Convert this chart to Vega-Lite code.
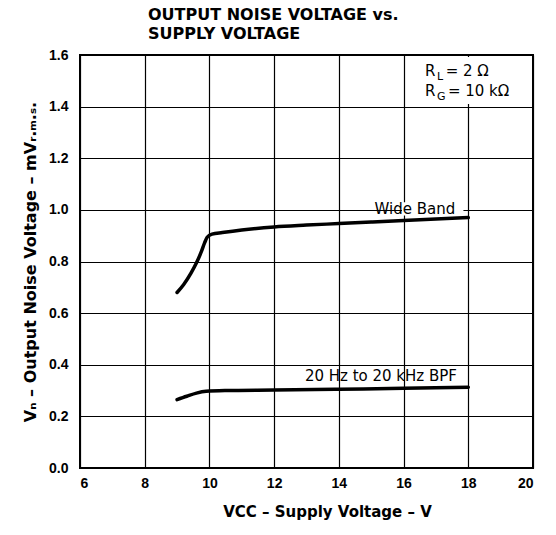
{
  "$schema": "https://vega.github.io/schema/vega-lite/v6.json",
  "width": 453,
  "height": 413,
  "autosize": {"type": "none"},
  "padding": {"left": 80, "top": 55, "right": 23, "bottom": 67},
  "background": "white",
  "title": {
    "text": ["OUTPUT NOISE VOLTAGE vs.", "SUPPLY VOLTAGE"],
    "anchor": "start",
    "frame": "group",
    "dx": 68,
    "offset": 6,
    "font": "DejaVu Sans",
    "fontSize": 16,
    "fontWeight": "bold",
    "lineHeight": 19,
    "color": "black"
  },
  "config": {
    "view": {"stroke": "black", "strokeWidth": 2},
    "axis": {
      "labelFont": "Liberation Sans",
      "labelFontSize": 14,
      "labelFontWeight": "bold",
      "labelColor": "black",
      "labelOverlap": false,
      "titleFont": "DejaVu Sans",
      "titleFontSize": 15,
      "titleFontWeight": "bold",
      "titleColor": "black",
      "grid": true,
      "gridColor": "black",
      "gridOpacity": 1,
      "gridWidth": 1.2,
      "domain": false,
      "ticks": false
    }
  },
  "datasets": {
    "curves": [
      {"series": "Wide Band", "vcc": 9.0, "vn": 0.68},
      {"series": "Wide Band", "vcc": 9.2, "vn": 0.71},
      {"series": "Wide Band", "vcc": 9.43, "vn": 0.755},
      {"series": "Wide Band", "vcc": 9.6, "vn": 0.795},
      {"series": "Wide Band", "vcc": 9.75, "vn": 0.838},
      {"series": "Wide Band", "vcc": 9.85, "vn": 0.872},
      {"series": "Wide Band", "vcc": 9.93, "vn": 0.894},
      {"series": "Wide Band", "vcc": 10.08, "vn": 0.906},
      {"series": "Wide Band", "vcc": 10.4, "vn": 0.912},
      {"series": "Wide Band", "vcc": 11.0, "vn": 0.922},
      {"series": "Wide Band", "vcc": 12.0, "vn": 0.934},
      {"series": "Wide Band", "vcc": 13.0, "vn": 0.941},
      {"series": "Wide Band", "vcc": 14.0, "vn": 0.947},
      {"series": "Wide Band", "vcc": 15.0, "vn": 0.953},
      {"series": "Wide Band", "vcc": 16.0, "vn": 0.959},
      {"series": "Wide Band", "vcc": 17.0, "vn": 0.965},
      {"series": "Wide Band", "vcc": 18.0, "vn": 0.97},
      {"series": "BPF", "vcc": 9.0, "vn": 0.265},
      {"series": "BPF", "vcc": 9.3, "vn": 0.278},
      {"series": "BPF", "vcc": 9.6, "vn": 0.29},
      {"series": "BPF", "vcc": 9.9, "vn": 0.297},
      {"series": "BPF", "vcc": 10.5, "vn": 0.3},
      {"series": "BPF", "vcc": 12.0, "vn": 0.302},
      {"series": "BPF", "vcc": 14.0, "vn": 0.305},
      {"series": "BPF", "vcc": 16.0, "vn": 0.309},
      {"series": "BPF", "vcc": 18.0, "vn": 0.313}
    ],
    "boxes": [
      {"vcc": 16.3, "vcc2": 19.93, "vn": 1.41, "vn2": 1.592},
      {"vcc": 15.95, "vcc2": 17.85, "vn": 0.978, "vn2": 1.03}
    ],
    "labels": [
      {"vcc": 16.35, "vn": 1.005, "text": "Wide Band"},
      {"vcc": 15.3, "vn": 0.357, "text": "20 Hz to 20 kHz BPF"}
    ],
    "notes": [
      {"vcc": 16.66, "vn": 1.519, "text": "R", "kind": "main"},
      {"vcc": 17.03, "vn": 1.519, "text": "L", "kind": "sub"},
      {"vcc": 17.3, "vn": 1.519, "text": "= 2 Ω", "kind": "main"},
      {"vcc": 16.66, "vn": 1.441, "text": "R", "kind": "main"},
      {"vcc": 17.03, "vn": 1.441, "text": "G", "kind": "sub"},
      {"vcc": 17.37, "vn": 1.441, "text": "= 10 kΩ", "kind": "main"}
    ]
  },
  "encoding": {
    "x": {
      "field": "vcc", "type": "quantitative",
      "scale": {"domain": [6, 20], "nice": false, "zero": false},
      "axis": {"values": [6, 8, 10, 12, 14, 16, 18, 20], "labelPadding": 8, "title": "VCC – Supply Voltage – V", "titlePadding": 14, "titleX": 247}
    },
    "y": {
      "field": "vn", "type": "quantitative",
      "scale": {"domain": [0, 1.6], "nice": false},
      "axis": {"values": [0, 0.2, 0.4, 0.6, 0.8, 1.0, 1.2, 1.4, 1.6], "format": ".1f", "labelPadding": 12, "title": "Vₙ – Output Noise Voltage – mVᵣ.ₘ.ₛ.", "titleFontSize": 16, "titlePadding": 10}
    }
  },
  "layer": [
    {
      "data": {"name": "boxes"},
      "mark": {"type": "rect", "color": "white"},
      "encoding": {
        "x2": {"field": "vcc2"},
        "y2": {"field": "vn2"}
      }
    },
    {
      "data": {"name": "curves"},
      "mark": {"type": "line", "color": "black", "strokeWidth": 3.5, "interpolate": "monotone", "strokeCap": "round"},
      "encoding": {
        "detail": {"field": "series"}
      }
    },
    {
      "data": {"name": "labels"},
      "mark": {"type": "text", "font": "DejaVu Sans", "fontSize": 15, "color": "black", "align": "center", "baseline": "middle"},
      "encoding": {
        "text": {"field": "text"}
      }
    },
    {
      "data": {"name": "notes"},
      "transform": [{"filter": "datum.kind === 'main'"}],
      "mark": {"type": "text", "font": "DejaVu Sans", "fontSize": 15, "color": "black", "align": "left", "baseline": "alphabetic"},
      "encoding": {
        "text": {"field": "text"}
      }
    },
    {
      "data": {"name": "notes"},
      "transform": [{"filter": "datum.kind === 'sub'"}],
      "mark": {"type": "text", "font": "DejaVu Sans", "fontSize": 11, "color": "black", "align": "left", "baseline": "alphabetic", "dy": 4},
      "encoding": {
        "text": {"field": "text"}
      }
    }
  ]
}
